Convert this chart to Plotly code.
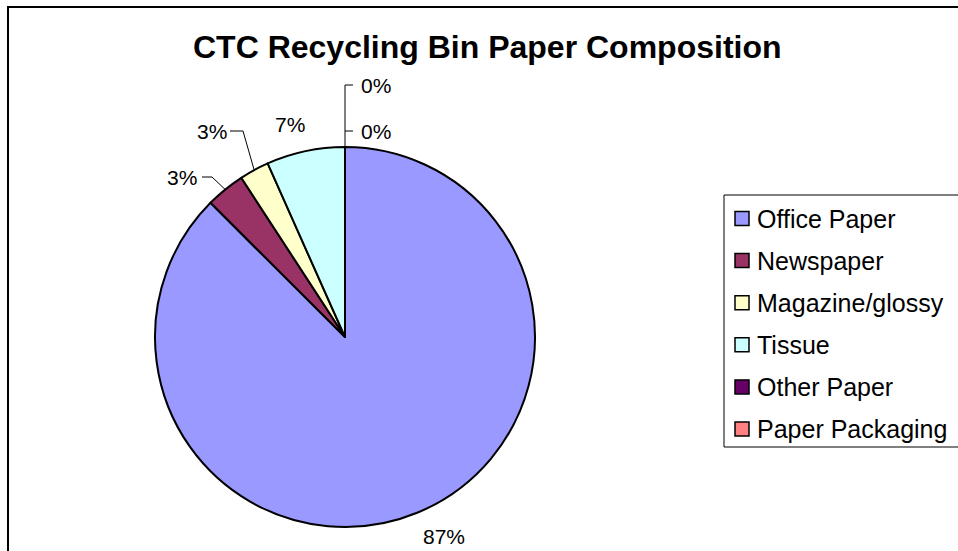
import math
import plotly.graph_objects as go

# Paper composition of the CTC recycling bin (share of total, %)
categories = ["Office Paper", "Newspaper", "Magazine/glossy", "Tissue",
              "Other Paper", "Paper Packaging"]
shares = [87.48, 3.33, 2.52, 6.67, 0.0, 0.0]
colors = ["#9999FF", "#993366", "#FFFFCC", "#CCFFFF", "#660066", "#FF8080"]
title_text = "CTC Recycling Bin Paper Composition"

W, H = 958, 551
CX, CY, R = 345, 337, 190          # pie centre and radius, px
FONT = "Arial, Liberation Sans, sans-serif"


def px(x):
    return x / W


def py(y):
    return 1 - y / H


fig = go.Figure(go.Pie(
    labels=categories,
    values=shares,
    sort=False,
    direction="clockwise",
    rotation=0,
    marker=dict(colors=colors, line=dict(color="black", width=2)),
    textinfo="none",
    hoverinfo="label+percent",
    showlegend=False,
    domain=dict(x=[px(CX - R), px(CX + R)], y=[py(CY + R), py(CY - R)]),
))

# slice mid-angles (clockwise from 12 o'clock) and the matching rim points
total = sum(shares)
cum = 0.0
rim = []
for v in shares:
    mid = (cum + v / 2) / total
    cum += v
    th = 2 * math.pi * mid
    rim.append((CX + R * math.sin(th), CY - R * math.cos(th)))
top_rim = (CX, CY - R)

# label placement (px) and leader routing
label_xy = [(444, 536), (182, 177), (212, 131), (290, 125), (376, 131), (376, 85)]

shapes = []
annotations = []


def seg(x0, y0, x1, y1, color="black", width=1):
    shapes.append(dict(type="line", xref="paper", yref="paper",
                       x0=px(x0), y0=py(y0), x1=px(x1), y1=py(y1),
                       line=dict(color=color, width=width)))


for i, v in enumerate(shares):
    lx, ly = label_xy[i]
    annotations.append(dict(
        x=px(lx), y=py(ly), xref="paper", yref="paper",
        text=f"{round(v)}%", showarrow=False,
        xanchor="center", yanchor="middle",
        font=dict(family=FONT, size=21, color="black"),
    ))

# leaders for the two small slices on the left
for i, (x_start, x_knee) in ((1, (202, 212)), (2, (230, 243))):
    ly = label_xy[i][1]
    seg(x_start, ly, x_knee, ly)
    seg(x_knee, ly, rim[i][0], rim[i][1])

# leaders for the two empty slices at the top
top_label_y = min(label_xy[4][1], label_xy[5][1])
seg(top_rim[0], top_rim[1], top_rim[0], top_label_y)
for i in (4, 5):
    ly = label_xy[i][1]
    seg(top_rim[0], ly, 353, ly)

# chart frame
shapes.append(dict(type="rect", xref="paper", yref="paper",
                   x0=px(8), y0=py(7), x1=px(1010), y1=py(620),
                   line=dict(color="black", width=2), fillcolor="rgba(0,0,0,0)",
                   layer="above"))

# legend box
shapes.append(dict(type="rect", xref="paper", yref="paper",
                   x0=px(724), y0=py(195), x1=px(1010), y1=py(447),
                   line=dict(color="black", width=1), fillcolor="rgba(0,0,0,0)"))

# legend entries
LEG_Y0, LEG_STEP = 218.5, 42.1
for i, name in enumerate(categories):
    yc = LEG_Y0 + i * LEG_STEP
    shapes.append(dict(type="rect", xref="paper", yref="paper",
                       x0=px(735), y0=py(yc + 7), x1=px(749), y1=py(yc - 7),
                       line=dict(color="black", width=1.5), fillcolor=colors[i]))
    annotations.append(dict(
        x=px(755), y=py(yc), xref="paper", yref="paper",
        text=name, showarrow=False, xanchor="left", yanchor="middle",
        font=dict(family=FONT, size=25, color="black"),
    ))

# title
annotations.append(dict(
    x=px(487), y=py(47), xref="paper", yref="paper",
    text=f"<b>{title_text}</b>", showarrow=False,
    xanchor="center", yanchor="middle",
    font=dict(family=FONT, size=32, color="black"),
))

fig.update_layout(
    width=W, height=H,
    margin=dict(l=0, r=0, t=0, b=0),
    paper_bgcolor="white",
    plot_bgcolor="white",
    showlegend=False,
    shapes=shapes,
    annotations=annotations,
)

fig.write_html("out.html")
